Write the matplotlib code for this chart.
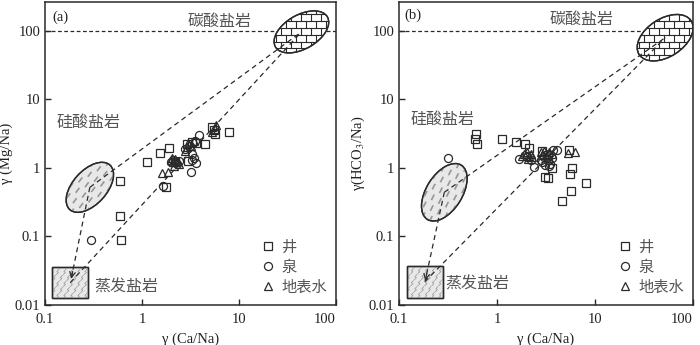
import numpy as np
import matplotlib
matplotlib.use('Agg')
import matplotlib.pyplot as plt
from matplotlib.patches import Ellipse, Polygon
from matplotlib.transforms import ScaledTranslation
from matplotlib.lines import Line2D
from matplotlib.font_manager import FontProperties

plt.rcParams['font.family'] = ['Liberation Serif', 'Noto Sans CJK SC', 'DejaVu Serif']
plt.rcParams['mathtext.fontset'] = 'stix'

# ---------------- data ----------------
x_ticks = [0.1, 1, 10, 100]
x_tick_labels = ['0.1', '1', '10', '100']
y_ticks = [0.01, 0.1, 1, 10, 100]
y_tick_labels = ['0.01', '0.1', '1', '10', '100']

legend_labels = ['井', '泉', '地表水']
end_member_labels = ['碳酸盐岩', '硅酸盐岩', '蒸发盐岩']

# panel (a): Ca/Na vs Mg/Na
well_a_ca = [0.59, 0.59, 0.61, 1.12, 1.52, 1.88, 1.77, 2.97, 4.5, 5.3, 5.5, 5.6, 7.9, 2.9, 3.3, 2.2, 3.6]
well_a_mg = [0.65, 0.20, 0.09, 1.22, 1.67, 1.92, 0.52, 1.26, 2.26, 4.0, 3.6, 3.1, 3.3, 2.2, 2.4, 1.2, 2.3]
spring_a_ca = [0.30, 1.63, 3.17, 3.85, 3.4, 3.6, 3.3, 2.1, 2.3, 2.8, 3.1, 3.5, 2.4, 2.0, 3.3]
spring_a_mg = [0.09, 0.54, 0.88, 3.01, 1.41, 1.19, 1.6, 1.3, 1.15, 1.9, 2.1, 2.5, 1.25, 1.2, 1.3]
surf_a_ca = [1.61, 1.84, 2.0, 2.1, 2.2, 2.3, 2.4, 2.15, 2.05, 2.9, 3.0, 3.2, 3.4, 2.8, 5.8, 5.3, 5.6]
surf_a_mg = [0.85, 0.87, 1.3, 1.2, 1.35, 1.25, 1.15, 1.05, 1.4, 2.0, 2.3, 2.1, 2.45, 1.75, 4.2, 3.3, 3.7]

# panel (b): Ca/Na vs HCO3/Na
well_b_ca = [0.61, 0.60, 0.62, 1.13, 1.55, 1.91, 2.13, 3.08, 3.34, 3.67, 5.38, 5.8, 5.5, 8.0, 5.7, 4.58, 2.9, 3.3]
well_b_hco3 = [3.13, 2.64, 2.2, 2.64, 2.36, 2.23, 1.92, 0.74, 0.71, 1.01, 1.82, 1.0, 0.82, 0.6, 0.46, 0.33, 1.75, 1.55]
spring_b_ca = [0.316, 1.66, 2.37, 2.9, 3.1, 3.3, 3.5, 3.7, 4.05, 3.0, 3.4, 2.0, 2.2, 3.6, 2.8]
spring_b_hco3 = [1.4, 1.35, 1.03, 1.2, 1.1, 1.3, 1.15, 1.85, 1.82, 1.45, 1.05, 1.45, 1.3, 1.4, 1.3]
surf_b_ca = [1.9, 2.0, 2.1, 2.2, 2.3, 1.8, 2.05, 2.8, 3.0, 3.2, 3.4, 2.9, 5.3, 6.2, 3.6]
surf_b_hco3 = [1.6, 1.7, 1.5, 1.6, 1.45, 1.5, 1.35, 1.7, 1.75, 1.6, 1.7, 1.55, 1.66, 1.72, 1.6]

# end-member centres (data coords) for each panel
carb_center = [(44, 96), (52, 79)]
sil_center = [(0.29, 0.52), (0.29, 0.44)]
evap_center = [(0.182, 0.0212), (0.183, 0.0218)]
arrow_end = [(0.186, 0.024), (0.185, 0.0225)]

EDGE = '#2a2a2a'
TXT = '#555555'
CN = ['Noto Sans CJK SC', 'DejaVu Sans']

fig = plt.figure(figsize=(7, 3.45), dpi=100)
ax_a = fig.add_axes([45 / 700, 40 / 345, 291 / 700, 303 / 345])
ax_b = fig.add_axes([399 / 700, 40 / 345, 294 / 700, 303 / 345])


def trans(ax, c):
    return fig.dpi_scale_trans + ScaledTranslation(c[0], c[1], ax.transData)


def add_clipped(ax, xs, ys, T, clip, **kw):
    ln = Line2D(xs, ys, transform=T, **kw)
    ax.add_line(ln)
    ln.set_clip_path(clip)


def carbonate(ax, c, a, b, ang):
    T = trans(ax, c)
    e = Ellipse((0, 0), 2 * a, 2 * b, angle=ang, transform=T, fc='white', ec=EDGE, lw=1.0, zorder=2)
    ax.add_patch(e)
    R = max(a, b)
    h = 0.068
    w = 0.10
    rows = np.arange(-R, R + h, h)
    for i, yy in enumerate(rows):
        add_clipped(ax, [-R, R], [yy, yy], T, e, color=EDGE, lw=0.8, zorder=2.5)
        off = (i % 2) * w / 2
        for xx in np.arange(-R - off, R + w, w):
            add_clipped(ax, [xx, xx], [yy, yy + h], T, e, color=EDGE, lw=0.8, zorder=2.5)
    e2 = Ellipse((0, 0), 2 * a, 2 * b, angle=ang, transform=T, fc='none', ec=EDGE, lw=1.0, zorder=2.6)
    ax.add_patch(e2)


def silicate(ax, c, a, b, ang):
    T = trans(ax, c)
    e = Ellipse((0, 0), 2 * a, 2 * b, angle=ang, transform=T, fc='#e8e8e8', ec=EDGE, lw=1.0, zorder=2)
    ax.add_patch(e)
    th = np.deg2rad(ang + 5)
    u = np.array([np.cos(th), np.sin(th)])
    v = np.array([-np.sin(th), np.cos(th)])
    L = 0.045
    for i, s in enumerate(np.arange(-0.32, 0.33, 0.1)):
        for t in np.arange(-0.16, 0.17, 0.08):
            p = s * u + (t + (i % 2) * 0.04) * v
            q = p + L * u
            add_clipped(ax, [p[0], q[0]], [p[1], q[1]], T, e, color='#969696', lw=1.2, zorder=2.5)
    e2 = Ellipse((0, 0), 2 * a, 2 * b, angle=ang, transform=T, fc='none', ec=EDGE, lw=1.0, zorder=2.6)
    ax.add_patch(e2)


def evaporite(ax, c, wd, ht):
    T = trans(ax, c)
    corners = [(-wd / 2, -ht / 2), (wd / 2, -ht / 2), (wd / 2, ht / 2), (-wd / 2, ht / 2)]
    r = Polygon(corners, closed=True, transform=T, fc='#e8e8e8', ec=EDGE, lw=1.0, zorder=2)
    ax.add_patch(r)
    for i, yy in enumerate(np.arange(-ht / 2, ht / 2 + 0.05, 0.06)):
        for xx in np.arange(-wd / 2 - 0.03, wd / 2 + 0.05, 0.07):
            x0 = xx + (i % 2) * 0.035
            add_clipped(ax, [x0, x0 + 0.02, x0 + 0.005, x0 + 0.025], [yy, yy + 0.02, yy + 0.03, yy + 0.05],
                        T, r, color='#a0a0a0', lw=0.6, zorder=2.5)
    r2 = Polygon(corners, closed=True, transform=T, fc='none', ec=EDGE, lw=1.0, zorder=2.6)
    ax.add_patch(r2)


def panel(ax, k, wells, springs, surf, ylabel, tag, label_pos):
    ax.set_xscale('log')
    ax.set_yscale('log')
    ax.axhline(100, ls=(0, (3, 2)), lw=0.9, color=EDGE, zorder=1.5)

    if k == 0:
        carbonate(ax, carb_center[k], 0.30, 0.17, 30)
        silicate(ax, sil_center[k], 0.30, 0.17, 48)
    else:
        carbonate(ax, carb_center[k], 0.31, 0.19, 33)
        silicate(ax, sil_center[k], 0.32, 0.18, 58)
    evaporite(ax, evap_center[k], 0.357, 0.317)

    dash = dict(ls=(0, (4, 3)), lw=0.9, color=EDGE, zorder=3)
    ax.plot([sil_center[k][0], carb_center[k][0]], [sil_center[k][1], carb_center[k][1]], **dash)
    ax.plot([evap_center[k][0], carb_center[k][0]], [evap_center[k][1], carb_center[k][1]], **dash)
    ax.plot([sil_center[k][0], arrow_end[k][0]], [sil_center[k][1], arrow_end[k][1]], **dash)
    sx, sy = sil_center[k]
    ex, ey = arrow_end[k]
    px = ex * (sx / ex) ** 0.08
    py = ey * (sy / ey) ** 0.08
    ax.annotate('', xy=(ex, ey), xytext=(px, py),
                arrowprops=dict(arrowstyle='->', lw=0.9, color=EDGE, shrinkA=0, shrinkB=0), zorder=3)

    mk = dict(ls='none', mfc='none', mec=EDGE, mew=0.9, zorder=4)
    h1, = ax.plot(wells[0], wells[1], marker='s', ms=5.5, **mk)
    h2, = ax.plot(springs[0], springs[1], marker='o', ms=5.8, **mk)
    h3, = ax.plot(surf[0], surf[1], marker='^', ms=6, **mk)

    ax.set_xlim(0.1, 100)
    ax.set_ylim(0.01, 262)
    ax.set_xticks(x_ticks, x_tick_labels)
    ax.set_yticks(y_ticks, y_tick_labels)
    ax.minorticks_off()
    ax.tick_params(direction='in', length=4, width=1, color=EDGE, labelsize=10.5, labelcolor='#222222')
    ax.tick_params(axis='x', pad=6)
    ax.get_xticklabels()[-1].set_horizontalalignment('right')
    for sp in ax.spines.values():
        sp.set_color(EDGE)
        sp.set_linewidth(1.1)
    ax.set_xlabel('γ (Ca/Na)', fontsize=10.5, color='#222222', labelpad=4.5)
    ax.set_ylabel(ylabel, fontsize=10.5, color='#222222', labelpad=1)

    ax.text(label_pos[0][0], label_pos[0][1], tag, transform=ax.transAxes, fontsize=10.5,
            ha='center', va='center', color='#222222')
    for (tx, ty), s in zip(label_pos[1:], end_member_labels):
        ax.text(tx, ty, s, transform=ax.transAxes, fontsize=11.5, ha='center', va='center',
                color=TXT, family=CN)

    ax.legend([h1, h2, h3], legend_labels, loc='lower right', frameon=False,
              prop=FontProperties(family=CN, size=11), labelcolor=TXT,
              handlelength=0.9, handletextpad=0.4, labelspacing=0.2,
              borderaxespad=0.3, borderpad=0.3)


panel(ax_a, 0, (well_a_ca, well_a_mg), (spring_a_ca, spring_a_mg), (surf_a_ca, surf_a_mg),
      'γ (Mg/Na)', '(a)', [(0.054, 0.951), (0.601, 0.937), (0.148, 0.601), (0.278, 0.059)])
panel(ax_b, 1, (well_b_ca, well_b_hco3), (spring_b_ca, spring_b_hco3), (surf_b_ca, surf_b_hco3),
      r'γ(HCO$_3$/Na)', '(b)', [(0.046, 0.957), (0.621, 0.944), (0.148, 0.613), (0.267, 0.069)])

fig.savefig('out.png', dpi=100)
